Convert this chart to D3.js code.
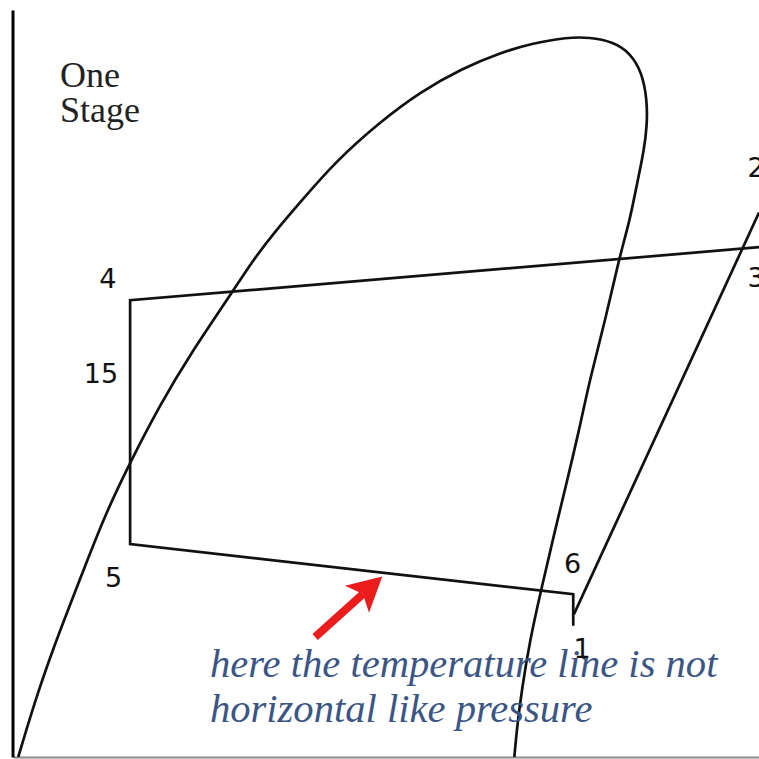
<!DOCTYPE html>
<html>
<head>
<meta charset="utf-8">
<script src="https://cdn.jsdelivr.net/npm/d3@7/dist/d3.min.js"></script>
<style>
  html, body { margin: 0; padding: 0; background: #fff; }
  svg { display: block; }
</style>
</head>
<body>
<svg id="chart" width="759" height="759"></svg>
<script>
// Saturation dome (entropy s, temperature T in arbitrary units), traced from the
// bottom of the liquid line, over the critical region, down the vapour line.
const domeS = [0.07, 0.34, 0.63, 0.92, 1.23, 1.57, 1.97, 2.37, 2.94, 3.20, 3.51, 3.85, 4.32, 4.92, 5.46,
               6.03, 6.53, 6.97, 7.43, 7.73, 8.04, 8.27, 8.43, 8.50, 8.50, 8.46, 8.36, 8.27, 8.12, 7.94,
               7.73, 7.59, 7.43, 7.25, 7.08, 6.93, 6.82, 6.76, 6.72];
const domeT = [0.00, 0.91, 1.72, 2.47, 3.28, 4.00, 4.78, 5.46, 6.31, 6.72, 7.13, 7.53, 8.08, 8.62, 9.03,
               9.35, 9.56, 9.69, 9.77, 9.77, 9.71, 9.56, 9.30, 8.92, 8.58, 8.24, 7.76, 7.29, 6.75, 5.93,
               5.12, 4.44, 3.76, 3.01, 2.27, 1.59, 0.91, 0.43, 0.00];

// Condenser line (through 3 and 4), cooling 4 -> 5, evaporator 5 -> 6, and the drop at 6.
const cycleS = [10.00, 1.57, 1.57, 7.51, 7.51];
const cycleT = [6.92, 6.20, 2.89, 2.21, 1.78];

// Compression 1 -> 2 (runs past the top edge toward 2).
const compS = [7.52, 10.00];
const compT = [1.94, 7.39];

// State-point labels.
const pointNames = ["4", "15", "5", "6", "1", "2", "3"];
const pointS     = [1.27, 1.18, 1.35, 7.50, 7.63, 9.96, 9.96];
const pointT     = [6.37, 5.08, 2.31, 2.50, 1.35, 7.87, 6.38];

// Title and note.
const titleLines = ["One", "Stage"];
const titleS = 0.63;
const titleT = [9.09, 8.62];

const noteLines = ["here the temperature line is not", "horizontal like pressure"];
const noteS = 2.64;
const noteT = [1.09, 0.48];

// Pointer from the note to the evaporator line.
const arrowS = [4.05, 4.95];
const arrowT = [1.63, 2.45];

const svg = d3.select("#chart");
const x = d3.scaleLinear().domain([0, 10]).range([13, 759]);
const y = d3.scaleLinear().domain([0, 10.14]).range([757, 10]);

// Axes: bare lines, no ticks.
svg.append("g")
  .attr("transform", `translate(0,${y(0)})`)
  .call(d3.axisBottom(x).ticks(0).tickSize(0).tickSizeOuter(0))
  .call(g => g.select(".domain").attr("stroke", "#8a8a8a").attr("stroke-width", 2));

svg.append("g")
  .attr("transform", `translate(${x(0) - 0.5},0)`)
  .call(d3.axisLeft(y).ticks(0).tickSize(0).tickSizeOuter(0))
  .call(g => g.select(".domain").attr("stroke", "#000").attr("stroke-width", 3));

const ink = "#111";
const lineW = 2.7;

// Saturation dome
const dome = domeS.map((s, i) => [s, domeT[i]]);
svg.append("path")
  .datum(dome)
  .attr("fill", "none")
  .attr("stroke", ink)
  .attr("stroke-width", lineW)
  .attr("d", d3.line().x(d => x(d[0])).y(d => y(d[1])).curve(d3.curveBasis));

// Cycle lines
const straight = d3.line().x(d => x(d[0])).y(d => y(d[1]));
svg.append("path")
  .datum(cycleS.map((s, i) => [s, cycleT[i]]))
  .attr("fill", "none")
  .attr("stroke", ink)
  .attr("stroke-width", lineW)
  .attr("stroke-linejoin", "miter")
  .attr("d", straight);

svg.append("path")
  .datum(compS.map((s, i) => [s, compT[i]]))
  .attr("fill", "none")
  .attr("stroke", ink)
  .attr("stroke-width", lineW)
  .attr("d", straight);

// State-point numbers
svg.append("g")
  .selectAll("text")
  .data(pointNames)
  .join("text")
  .attr("x", (d, i) => x(pointS[i]))
  .attr("y", (d, i) => y(pointT[i]))
  .attr("text-anchor", "middle")
  .attr("font-family", "'DejaVu Sans', sans-serif")
  .attr("font-size", 27)
  .attr("fill", ink)
  .text(d => d);

// Title
svg.append("g")
  .selectAll("text")
  .data(titleLines)
  .join("text")
  .attr("x", x(titleS))
  .attr("y", (d, i) => y(titleT[i]))
  .attr("font-family", "'Liberation Serif', serif")
  .attr("font-size", 36)
  .attr("fill", "#222")
  .text(d => d);

// Red pointer arrow
const tail = [x(arrowS[0]), y(arrowT[0])];
const tip = [x(arrowS[1]), y(arrowT[1])];
const dx = tip[0] - tail[0], dy = tip[1] - tail[1];
const len = Math.hypot(dx, dy);
const ux = dx / len, uy = dy / len;
const px = -uy, py = ux;
const headLen = 34, headHalf = 18, notch = 26;
const red = "#ea1c1c";
svg.append("line")
  .attr("x1", tail[0]).attr("y1", tail[1])
  .attr("x2", tip[0] - ux * notch).attr("y2", tip[1] - uy * notch)
  .attr("stroke", red)
  .attr("stroke-width", 8);
svg.append("path")
  .attr("fill", red)
  .attr("d", d3.line()([
    tip,
    [tip[0] - ux * headLen + px * headHalf, tip[1] - uy * headLen + py * headHalf],
    [tip[0] - ux * notch, tip[1] - uy * notch],
    [tip[0] - ux * headLen - px * headHalf, tip[1] - uy * headLen - py * headHalf]
  ]) + "Z");

// Note text
svg.append("g")
  .selectAll("text")
  .data(noteLines)
  .join("text")
  .attr("x", x(noteS))
  .attr("y", (d, i) => y(noteT[i]))
  .attr("font-family", "'Liberation Serif', serif")
  .attr("font-style", "italic")
  .attr("font-size", 40.6)
  .attr("fill", "#3b5686")
  .text(d => d);
</script>
</body>
</html>
